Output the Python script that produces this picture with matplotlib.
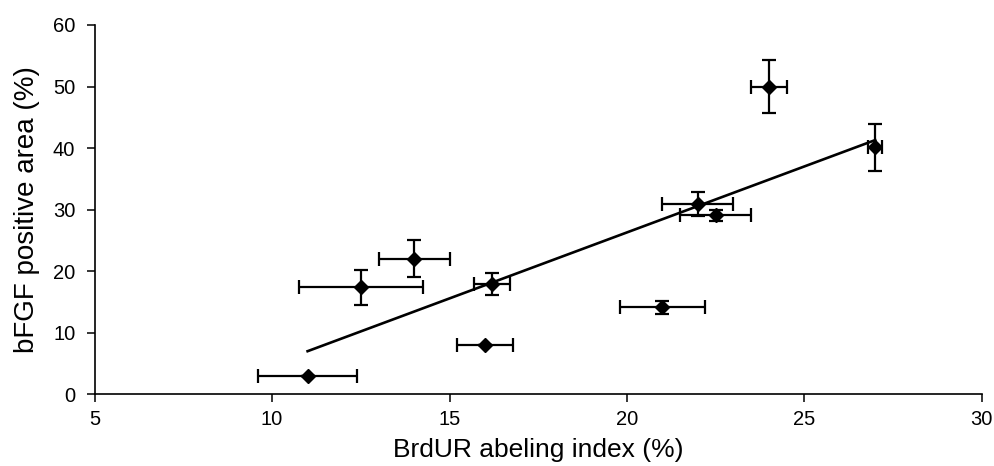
import matplotlib
matplotlib.use("Agg")
import matplotlib.pyplot as plt

# BrdU labeling index vs bFGF positive area, with SEM in both directions
brdu = [11.0, 12.5, 14.0, 16.2, 16.0, 21.0, 22.0, 22.5, 24.0, 27.0]
brdu_err = [1.4, 1.75, 1.0, 0.5, 0.8, 1.2, 1.0, 1.0, 0.5, 0.2]
bfgf = [3.0, 17.4, 22.0, 17.9, 8.0, 14.1, 30.9, 29.1, 50.0, 40.1]
bfgf_err = [0.0, 2.85, 3.0, 1.8, 0.0, 1.0, 2.0, 0.9, 4.3, 3.8]

# regression line end points
fit_x = [11.0, 27.0]
fit_y = [7.0, 41.3]

x_ticks = [5, 10, 15, 20, 25, 30]
y_ticks = [0, 10, 20, 30, 40, 50, 60]

plt.rcParams["font.family"] = ["Liberation Sans", "DejaVu Sans"]

fig = plt.figure(figsize=(9.95, 4.66), dpi=100)
ax = fig.add_axes([0.0952, 0.1539, 0.8914, 0.7925])

ax.errorbar(brdu, bfgf, xerr=brdu_err, yerr=bfgf_err, fmt="D", color="black",
            ms=7, ecolor="black", elinewidth=1.6, capsize=5, capthick=1.6)
ax.plot(fit_x, fit_y, color="black", lw=1.9)

ax.set_xlim(5, 30)
ax.set_ylim(0, 60)
ax.set_xticks(x_ticks)
ax.set_yticks(y_ticks)
ax.spines["top"].set_visible(False)
ax.spines["right"].set_visible(False)
for s in ("left", "bottom"):
    ax.spines[s].set_linewidth(1.2)
ax.tick_params(direction="out", length=6, width=1.1, labelsize=14.5)
ax.tick_params(axis="x", pad=5)
ax.tick_params(axis="y", pad=8)

ax.set_xlabel("BrdUR abeling index (%)", fontsize=19, labelpad=7)
ax.set_ylabel("bFGF positive area (%)", fontsize=20, labelpad=9)

fig.savefig("out.png", dpi=100)
